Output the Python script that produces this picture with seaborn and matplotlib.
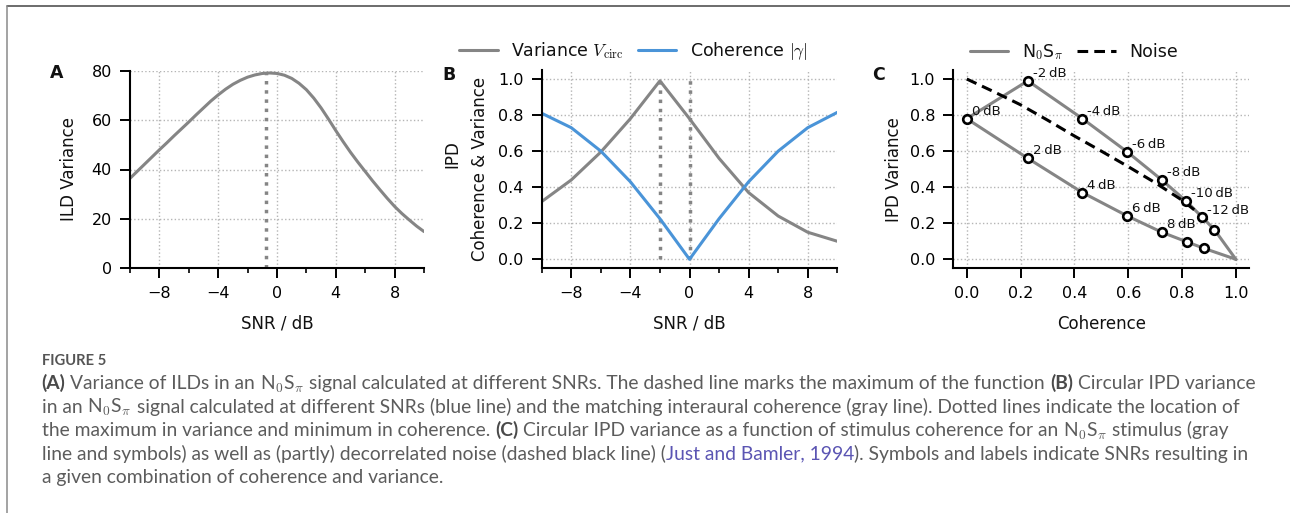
import matplotlib
matplotlib.use("Agg")
import matplotlib.pyplot as plt
from matplotlib.lines import Line2D
import seaborn as sns

# ---------------- data ----------------
# Panel A: ILD variance vs SNR
snr_a = [-10, -9.5, -9, -8.5, -8, -7.5, -7, -6.5, -6, -5.5, -5, -4.5, -4, -3.5, -3,
         -2.5, -2, -1.5, -1, -0.5, 0, 0.5, 1, 1.5, 2, 2.5, 3, 3.5, 4, 4.5, 5, 5.5,
         6, 6.5, 7, 7.5, 8, 8.5, 9, 9.5, 10]
ild_var = [36.4, 39.3, 42.2, 45.1, 48.0, 50.8, 53.7, 56.5, 59.3, 62.2, 65.0, 67.8,
           70.3, 72.6, 74.6, 76.2, 77.5, 78.4, 79.0, 79.2, 79.0, 78.3, 77.0, 75.0,
           72.4, 69.0, 65.0, 60.5, 55.8, 51.3, 47.0, 43.0, 39.2, 35.4, 31.8, 28.3,
           25.0, 22.1, 19.5, 17.0, 14.8]
ild_peak_snr = -0.77
ild_peak_var = 79.2

# Panel B: IPD variance and coherence vs SNR
snr_b = [-10, -8, -6, -4, -2, 0, 2, 4, 6, 8, 10]
ipd_var_b = [0.32, 0.44, 0.595, 0.78, 0.99, 0.78, 0.56, 0.37, 0.24, 0.15, 0.10]
coh_b = [0.81, 0.73, 0.60, 0.43, 0.225, 0.0, 0.225, 0.43, 0.60, 0.73, 0.815]
marker_snr_b = [-2, 0]
marker_top_b = 1.0

# Panel C: IPD variance vs coherence (N0Spi points labelled by SNR)
snr_c = [-14, -12, -10, -8, -6, -4, -2, 0, 2, 4, 6, 8, 10, 12]
coh_c = [0.92, 0.876, 0.815, 0.725, 0.597, 0.43, 0.227, 0.0, 0.227, 0.43, 0.597, 0.725, 0.819, 0.883]
var_c = [0.165, 0.232, 0.323, 0.44, 0.595, 0.78, 0.99, 0.78, 0.56, 0.37, 0.24, 0.15, 0.096, 0.06]
labelled_snr_c = [-12, -10, -8, -6, -4, -2, 0, 2, 4, 6, 8]
limit_coh, limit_var = 1.0, 0.0          # SNR -> -inf / +inf
noise_coh = [0.0, 0.1, 0.2, 0.3, 0.4, 0.5, 0.6, 0.7, 0.8, 0.9]
noise_var = [1.0, 0.93, 0.857, 0.772, 0.684, 0.60, 0.514, 0.425, 0.328, 0.21]

# ---------------- style ----------------
W, H = 1290, 513
sns.set_theme(style="ticks")
plt.rcParams["font.family"] = ["DejaVu Sans"]
plt.rcParams.update({
    "axes.edgecolor": "black", "axes.linewidth": 1.5,
    "xtick.color": "black", "ytick.color": "black",
    "text.color": "#111111", "axes.labelcolor": "#111111",
    "mathtext.fontset": "cm",
})
GRAY = "#858585"
BLUE = "#4a94d8"
FS = 11.5
LFS = 12.5

fig = plt.figure(figsize=(W / 100, H / 100), dpi=100)
fig.patch.set_facecolor("white")


def px_axes(left, top, right, bottom):
    return fig.add_axes([left / W, 1 - bottom / H, (right - left) / W, (bottom - top) / H])


def style_axes(ax):
    sns.despine(ax=ax)
    ax.set_axisbelow(True)
    ax.grid(True, which="major", ls=":", color="#b5b5b5", lw=1.0)
    ax.tick_params(which="major", length=7, width=1.4, labelsize=FS, pad=6)
    ax.tick_params(which="minor", length=3.5, width=1.2)
    ax.xaxis.label.set_size(FS + 0.5)
    ax.yaxis.label.set_size(FS + 0.5)


# ---------------- panel A ----------------
axA = px_axes(130, 71, 424, 268)
sns.lineplot(x=snr_a, y=ild_var, ax=axA, color=GRAY, lw=2.2, estimator=None)
axA.vlines(ild_peak_snr, 0, ild_peak_var, colors=GRAY, linestyles=":", lw=2.5)
axA.set_xlim(-10, 10)
axA.set_ylim(0, 80)
axA.set_xticks([-8, -4, 0, 4, 8])
axA.set_xticks([-10, -6, -2, 2, 6, 10], minor=True)
axA.set_yticks([0, 20, 40, 60, 80])
axA.set_xlabel("SNR / dB")
axA.set_ylabel("ILD Variance")
style_axes(axA)
axA.xaxis.set_label_coords(0.5, -0.235)
axA.yaxis.set_label_coords(-0.177, 0.5)

# ---------------- panel B ----------------
axB = px_axes(541.7, 70, 837.3, 268.3)
sns.lineplot(x=snr_b, y=ipd_var_b, ax=axB, color=GRAY, lw=2.2, estimator=None,
             label=r"Variance $V_{\mathrm{circ}}$")
sns.lineplot(x=snr_b, y=coh_b, ax=axB, color=BLUE, lw=2.2, estimator=None,
             label=r"Coherence $|\gamma|$")
axB.vlines(marker_snr_b, 0, marker_top_b, colors=GRAY, linestyles=":", lw=2.5, zorder=1.5)
axB.set_xlim(-10, 10)
axB.set_ylim(-0.05, 1.05)
axB.set_xticks([-8, -4, 0, 4, 8])
axB.set_xticks([-10, -6, -2, 2, 6, 10], minor=True)
axB.set_yticks([0, 0.2, 0.4, 0.6, 0.8, 1.0])
axB.set_xlabel("SNR / dB")
axB.set_ylabel("Coherence & Variance")
style_axes(axB)
axB.xaxis.set_label_coords(0.5, -0.235)
axB.yaxis.set_label_coords(-0.178, 0.5)
axB.text(-0.303, 0.576, "IPD", transform=axB.transAxes, rotation=90,
         ha="center", va="center", fontsize=FS + 0.5)
hB, lB = axB.get_legend_handles_labels()
if axB.get_legend() is not None:
    axB.get_legend().remove()
fig.legend(hB, lB, loc="center", bbox_to_anchor=(633.5 / W, 1 - 51 / H), ncol=2,
           frameon=False, fontsize=LFS, handlelength=2.2, columnspacing=0.8,
           handletextpad=0.8)

# ---------------- panel C ----------------
axC = px_axes(953.3, 70, 1249.3, 268.3)
line_coh = [limit_coh] + coh_c + [limit_coh]
line_var = [limit_var] + var_c + [limit_var]
sns.lineplot(x=line_coh, y=line_var, ax=axC, color=GRAY, lw=2.2, sort=False,
             estimator=None, label=r"N$_\mathsf{0}$S$_\pi$", zorder=2)
sns.lineplot(x=noise_coh, y=noise_var, ax=axC, color="black", lw=2.2,
             linestyle=(0, (3.5, 2.0)), estimator=None, label="Noise", zorder=3)
sns.scatterplot(x=coh_c, y=var_c, ax=axC, marker="o", s=38, color="white",
                edgecolor="black", linewidth=1.9, zorder=4)
for s, c, v in zip(snr_c, coh_c, var_c):
    if s in labelled_snr_c:
        axC.annotate(f"{s}\u2009dB", (c, v), xytext=(3.5, 2.8),
                     textcoords="offset points", fontsize=9.6, ha="left",
                     va="baseline", zorder=5)
axC.set_xlim(-0.05, 1.05)
axC.set_ylim(-0.05, 1.05)
axC.set_xticks([0, 0.2, 0.4, 0.6, 0.8, 1.0])
axC.set_yticks([0, 0.2, 0.4, 0.6, 0.8, 1.0])
axC.set_xlabel("Coherence")
axC.set_ylabel("IPD Variance")
style_axes(axC)
axC.xaxis.set_label_coords(0.5, -0.235)
axC.yaxis.set_label_coords(-0.17, 0.5)
hC, lC = axC.get_legend_handles_labels()
if axC.get_legend() is not None:
    axC.get_legend().remove()
fig.legend(hC[:2], lC[:2], loc="center", bbox_to_anchor=(1074 / W, 1 - 52 / H), ncol=2,
           frameon=False, fontsize=LFS, handlelength=2.2, columnspacing=0.8,
           handletextpad=0.8)

# panel letters
for letter, xp, yp in [("A", 50, 78), ("B", 442, 80), ("C", 872, 80)]:
    fig.text(xp / W, 1 - yp / H, letter, fontsize=12.5, fontweight="bold",
             ha="left", va="baseline")

# frame lines
fig.add_artist(Line2D([7 / W, 1.0], [1 - 6 / H, 1 - 6 / H], color="#444444", lw=1.1))
fig.add_artist(Line2D([7 / W, 7 / W], [0, 1 - 6 / H], color="#8a8a8a", lw=1.1))

# ---------------- caption ----------------
renderer = fig.canvas.get_renderer()
CAP_FONT = ["Lato", "DejaVu Sans"]
STYLES = {
    "n": dict(color="#5c5c5c", fontweight="normal"),
    "b": dict(color="#4a4a4a", fontweight="bold"),
    "l": dict(color="#5b55b3", fontweight="normal"),
}
NS = r"N$_\mathsf{0}$S$_\pi$"
cap_lines = [
    [("(A)", "b"), (" Variance of ILDs in an ", "n"), (NS, "n"),
     (" signal calculated at different SNRs. The dashed line marks the maximum of the function ", "n"),
     ("(B)", "b"), (" Circular IPD variance", "n")],
    [("in an ", "n"), (NS, "n"),
     (" signal calculated at different SNRs (blue line) and the matching interaural coherence (gray line). Dotted lines indicate the location of", "n")],
    [("the maximum in variance and minimum in coherence. ", "n"), ("(C)", "b"),
     (" Circular IPD variance as a function of stimulus coherence for an ", "n"), (NS, "n"),
     (" stimulus (gray", "n")],
    [("line and symbols) as well as (partly) decorrelated noise (dashed black line) (", "n"),
     ("Just and Bamler, 1994", "l"), ("). Symbols and labels indicate SNRs resulting in", "n")],
    [("a given combination of coherence and variance.", "n")],
]


def text_width(s, size, **kw):
    t = fig.text(0, 0, s, fontsize=size, family=CAP_FONT, **kw)
    w = t.get_window_extent(renderer).width
    t.remove()
    return w


def rich_line(x_px, base_px, segs, size, draw=True):
    sp = text_width("a a", size) - text_width("aa", size)
    x = x_px
    for txt, kind in segs:
        lead = len(txt) - len(txt.lstrip(" "))
        trail = len(txt) - len(txt.rstrip(" "))
        core = txt.strip(" ")
        x += lead * sp
        t = fig.text(x / W, 1 - base_px / H, core, fontsize=size, family=CAP_FONT,
                     ha="left", va="baseline", **STYLES[kind])
        x += t.get_window_extent(renderer).width + trail * sp
        if not draw:
            t.remove()
    return x - x_px


base_size = 11.0
w1 = rich_line(0, 0, cap_lines[0], base_size, draw=False)
cap_size = base_size * 1215.0 / w1

fig.text(41.7 / W, 1 - 365 / H, "FIGURE 5", fontsize=10.6, family=CAP_FONT,
         fontweight="bold", color="#555555", ha="left", va="baseline")
for i, segs in enumerate(cap_lines):
    rich_line(41.7, 389.3 + 23.5 * i, segs, cap_size)

fig.savefig("out.png", dpi=100, facecolor="white")
